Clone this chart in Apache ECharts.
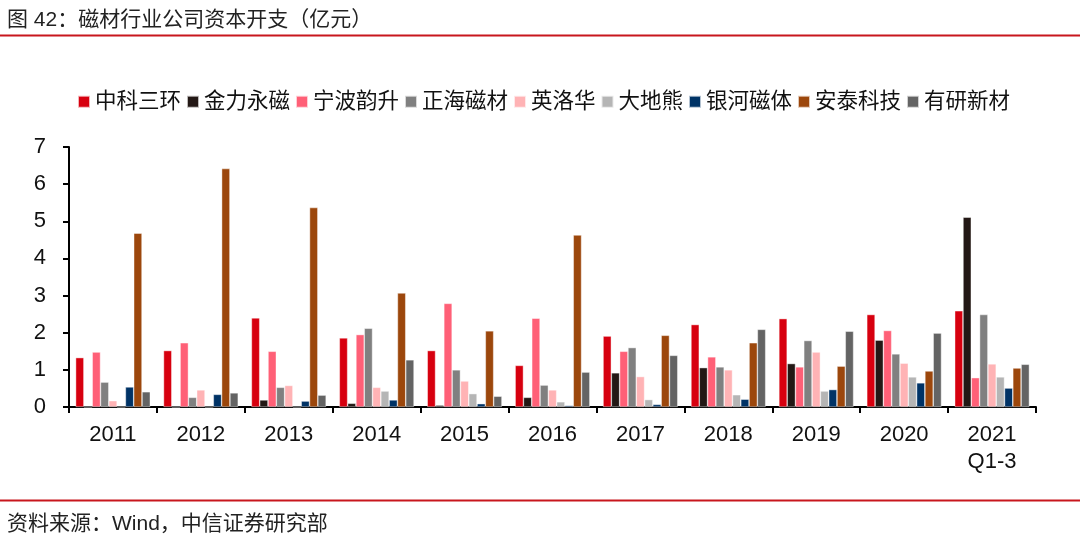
<!DOCTYPE html>
<html>
<head>
<meta charset="utf-8">
<script src="https://cdn.jsdelivr.net/npm/echarts@6/dist/echarts.min.js"></script>
<style>
html,body{margin:0;padding:0;background:#fff;}
#c{width:1080px;height:540px;}
</style>
</head>
<body>
<div id="c"></div>
<script>
const categories = ['2011','2012','2013','2014','2015','2016','2017','2018','2019','2020','2021\nQ1-3'];
const seriesNames = ['中科三环','金力永磁','宁波韵升','正海磁材','英洛华','大地熊','银河磁体','安泰科技','有研新材'];
const zhongkeSanhuan = [1.33,1.52,2.40,1.86,1.52,1.12,1.91,2.22,2.38,2.49,2.59];
const jinliYongci   = [0,0,0.19,0.10,0.05,0.26,0.92,1.06,1.17,1.80,5.11];
const ningboYunsheng= [1.48,1.73,1.50,1.95,2.79,2.39,1.50,1.35,1.08,2.06,0.79];
const zhenghaiCicai = [0.67,0.26,0.53,2.12,1.00,0.59,1.60,1.08,1.79,1.43,2.49];
const yingluohua    = [0.17,0.46,0.58,0.53,0.70,0.46,0.82,1.00,1.48,1.18,1.16];
const dadixiong     = [0,0,0,0.43,0.36,0.14,0.20,0.33,0.43,0.81,0.81];
const yinheCiti     = [0.54,0.34,0.16,0.19,0.09,0.04,0.07,0.21,0.47,0.65,0.51];
const antaiKeji     = [4.68,6.42,5.37,3.07,2.05,4.63,1.93,1.73,1.10,0.97,1.05];
const youyanXincai  = [0.41,0.38,0.32,1.27,0.29,0.94,1.39,2.09,2.04,1.99,1.15];
const yTicks = [0,1,2,3,4,5,6,7];

const seriesData = [zhongkeSanhuan,jinliYongci,ningboYunsheng,zhenghaiCicai,yingluohua,dadixiong,yinheCiti,antaiKeji,youyanXincai];
const colors = ['#d7000f','#231815','#ff6077','#808080','#ffb3b5','#b5b5b5','#003366','#9c470c','#646464'];

const FONT = '"Liberation Sans", Arial, "Noto Sans CJK SC", sans-serif';
const chart = echarts.init(document.getElementById('c'));
chart.setOption({
  animation: false,
  color: colors,
  textStyle: {fontFamily: FONT},
  title: [
    {text: '图 42：磁材行业公司资本开支（亿元）', left: 2, top: 5,
     textStyle: {fontSize: 21, fontWeight: 'normal', color: '#222', fontFamily: FONT}},
    {text: '资料来源：Wind，中信证券研究部', left: 2, top: 509,
     textStyle: {fontSize: 21, fontWeight: 'normal', color: '#222', fontFamily: FONT}}
  ],
  graphic: [
    {type: 'line', shape: {x1: 0, y1: 35.5, x2: 1080, y2: 35.5}, style: {stroke: '#c8161d', lineWidth: 2}},
    {type: 'line', shape: {x1: 0, y1: 500.5, x2: 1080, y2: 500.5}, style: {stroke: '#c8161d', lineWidth: 2}}
  ],
  legend: {
    top: 86, left: 72,
    itemWidth: 12, itemHeight: 12, itemGap: 5,
    icon: 'rect',
    data: seriesNames,
    textStyle: {fontSize: 21.5, color: '#111', fontFamily: FONT}
  },
  grid: {left: 69, right: 44, top: 147, bottom: 133, containLabel: false},
  xAxis: {
    type: 'category',
    data: categories,
    axisLine: {lineStyle: {color: '#000', width: 2}},
    axisTick: {show: true, length: 6, lineStyle: {color: '#000', width: 2}},
    axisLabel: {fontSize: 22, color: '#111', margin: 14, lineHeight: 27, interval: 0, fontFamily: FONT}
  },
  yAxis: {
    type: 'value',
    min: 0, max: 7, interval: 1,
    splitLine: {show: false},
    axisLine: {show: true, lineStyle: {color: '#000', width: 2}},
    axisTick: {show: true, length: 6, lineStyle: {color: '#000', width: 2}},
    axisLabel: {fontSize: 22, color: '#111', margin: 23, fontFamily: FONT,
      formatter: function(v){ return yTicks.indexOf(v) >= 0 ? String(v) : ''; }}
  },
  series: seriesNames.map(function(name, i){
    return {
      name: name, type: 'bar', data: seriesData[i],
      barGap: '0%', barCategoryGap: '15%',
      itemStyle: {borderColor: 'rgba(255,255,255,0.7)', borderWidth: 0.6}
    };
  })
});
</script>
</body>
</html>
